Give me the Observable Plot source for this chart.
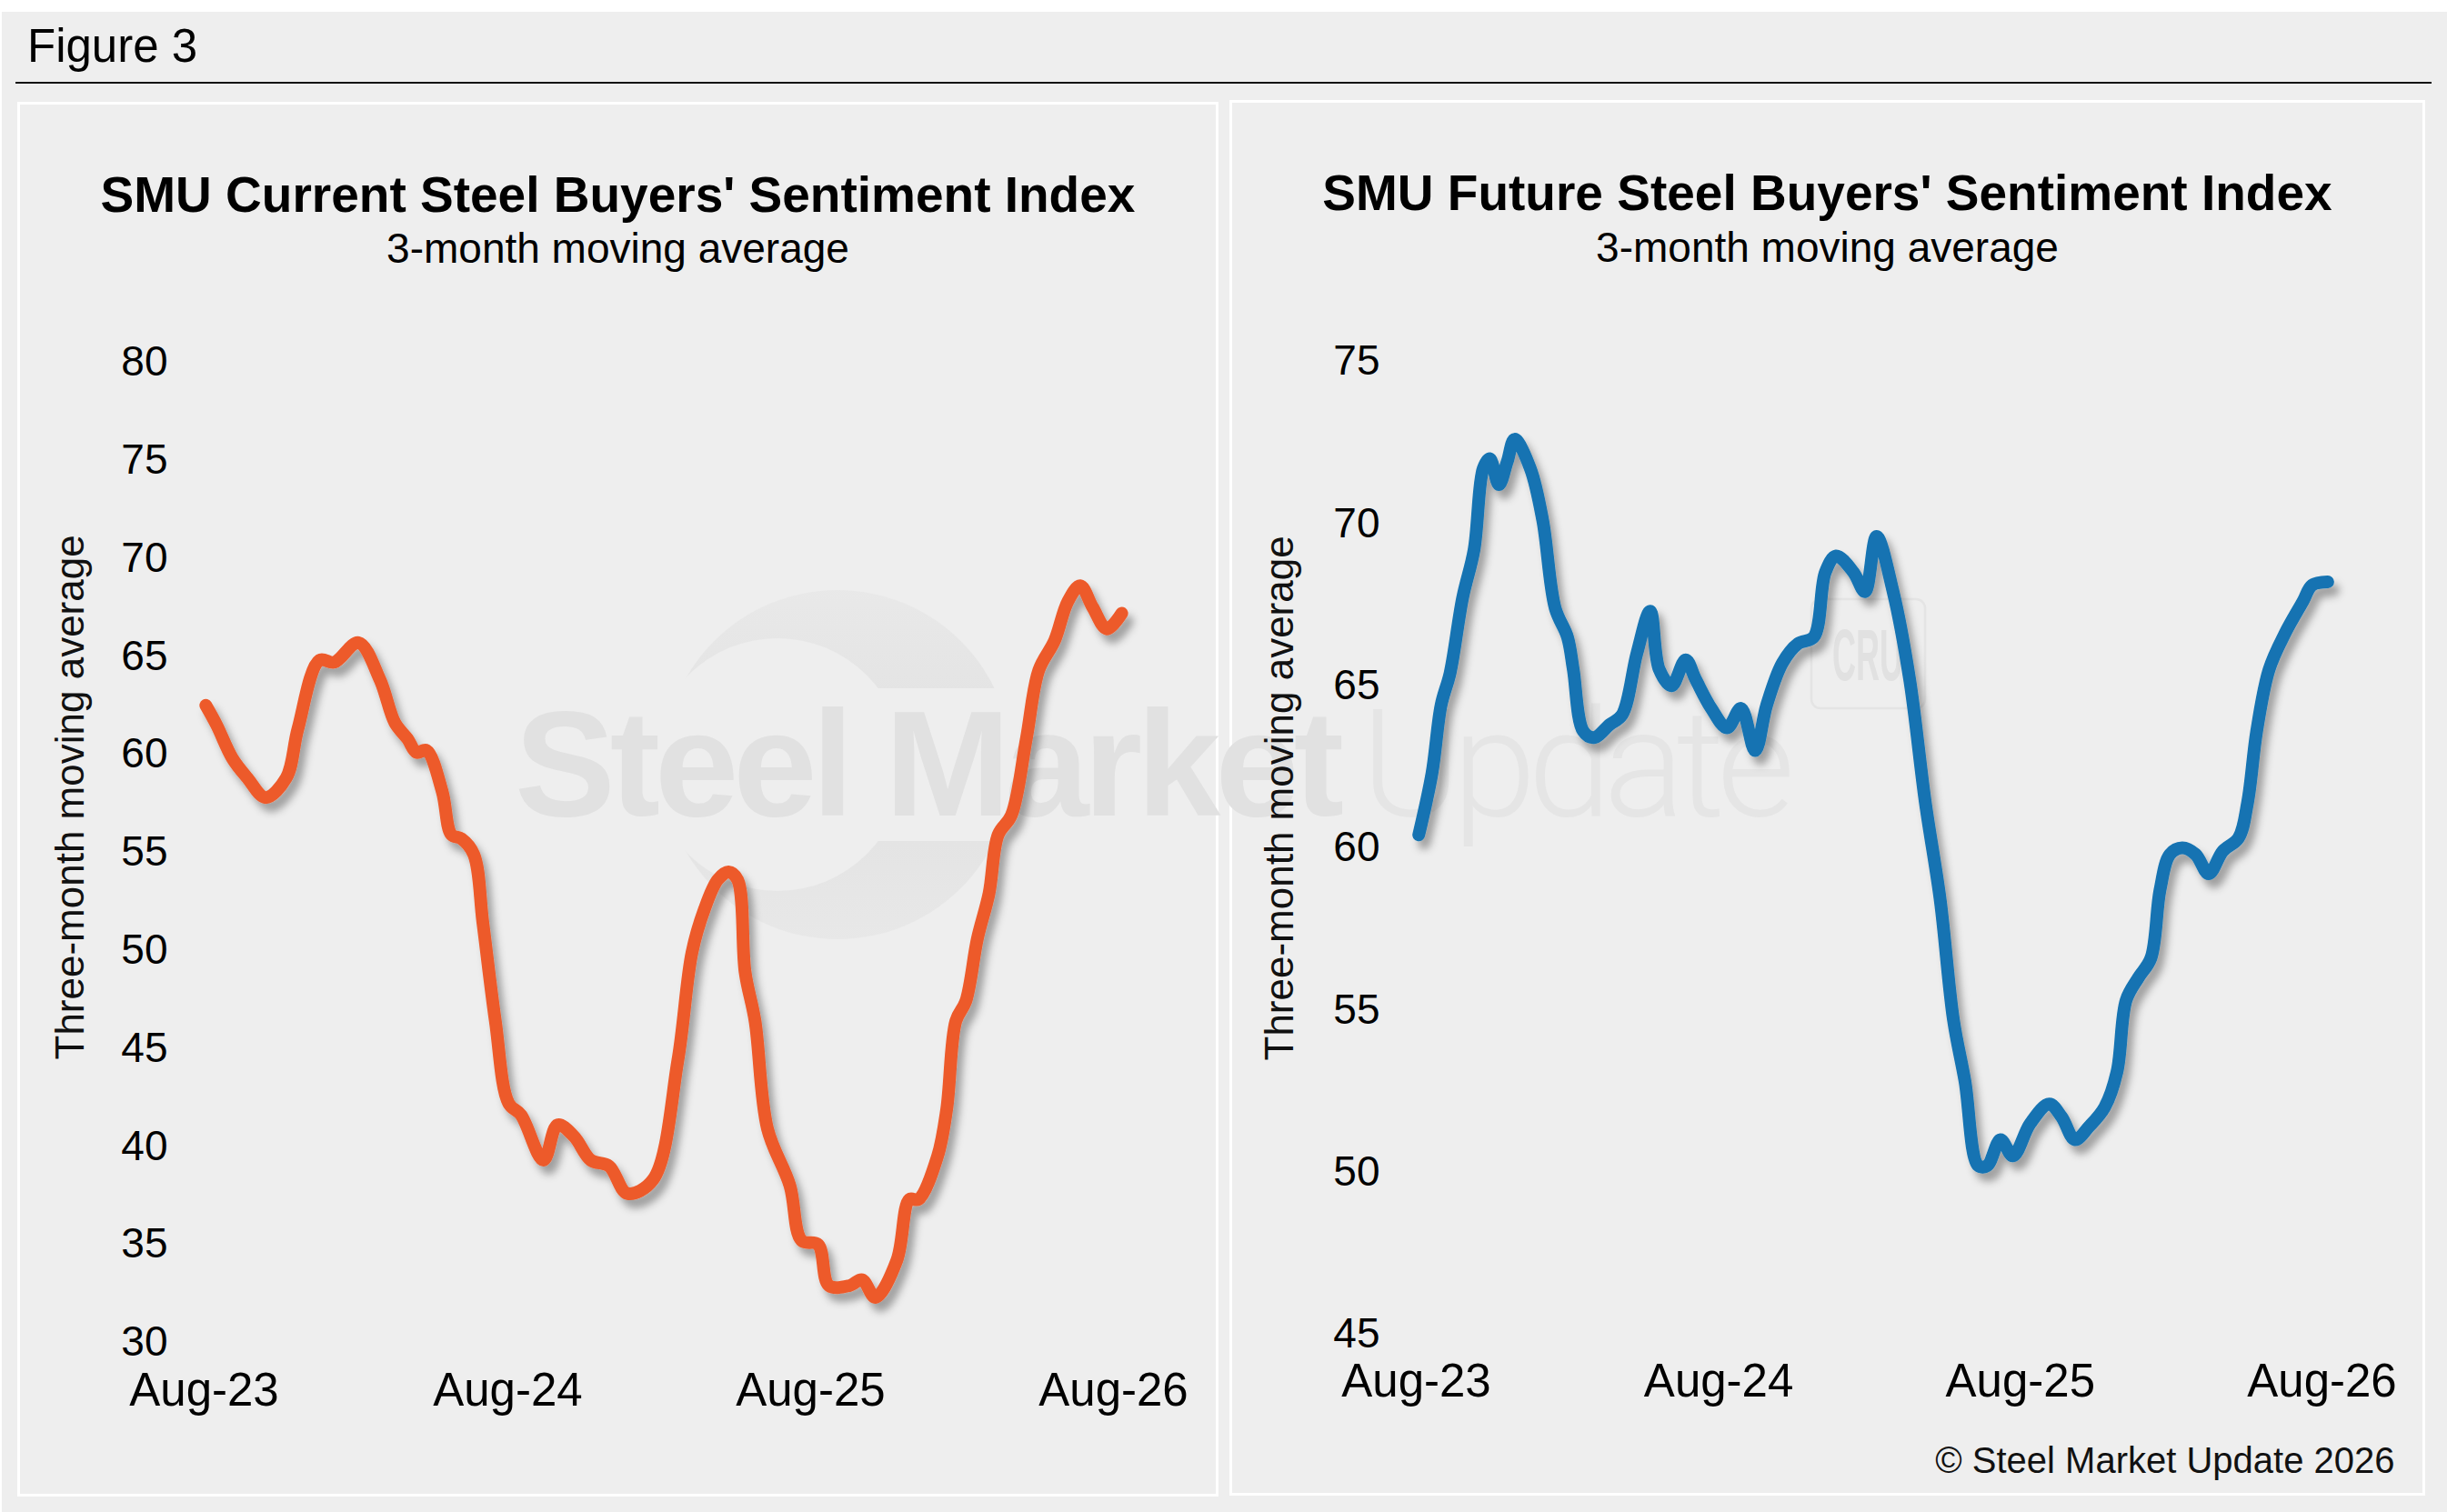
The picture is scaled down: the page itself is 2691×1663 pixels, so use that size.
<!DOCTYPE html>
<html>
<head>
<meta charset="utf-8">
<script src="https://cdn.jsdelivr.net/npm/d3@7"></script>
<script src="https://cdn.jsdelivr.net/npm/@observablehq/plot@0.6"></script>
<style>
  html, body { margin: 0; padding: 0; background: #ffffff; }
  #page { position: relative; width: 2691px; height: 1663px; overflow: hidden;
          font-family: "Liberation Sans", Arial, Helvetica, sans-serif; color: #000; }
  #bg { position: absolute; left: 2px; top: 13px; right: 0; bottom: 0; background: #eeeeee; }
  .abs { position: absolute; }
  .rule { position: absolute; left: 17px; top: 90px; width: 2657px; height: 2px; background: #111; }
  .panel { position: absolute; box-sizing: border-box; border: 3px solid #ffffff; }
  .title { position: absolute; text-align: center; font-weight: bold; font-size: 55px; line-height: 1; white-space: nowrap; }
  .subtitle { position: absolute; text-align: center; font-size: 46px; line-height: 1; white-space: nowrap; }
  #wm { position: absolute; left: 0; top: 0; }
</style>
</head>
<body>
<div id="page">
  <div id="bg"></div>
  <div class="abs" style="left:30px;top:25px;font-size:51px;line-height:1;">Figure 3</div>
  <div class="rule"></div>
  <div class="panel" style="left:19px;top:112px;width:1321px;height:1534px;"></div>
  <div class="panel" style="left:1352px;top:110px;width:1315px;height:1535px;"></div>
  <svg id="wm" width="2691" height="1663" xmlns="http://www.w3.org/2000/svg">
    <defs>
      <mask id="ringMask" maskUnits="userSpaceOnUse" x="0" y="0" width="2691" height="1663">
        <circle cx="921" cy="841" r="192" fill="#fff"></circle>
        <circle cx="855" cy="841" r="139" fill="#000"></circle>
        <rect x="0" y="757" width="2691" height="168" fill="#000"></rect>
      </mask>
      <linearGradient id="ringGrad" x1="0" y1="0" x2="0" y2="1">
        <stop offset="0" stop-color="#e9e9e9"></stop>
        <stop offset="0.5" stop-color="#e1e1e1"></stop>
        <stop offset="1" stop-color="#e8e8e8"></stop>
      </linearGradient>
    </defs>
    <rect x="700" y="640" width="420" height="400" fill="url(#ringGrad)" mask="url(#ringMask)"></rect>
    <text x="566" y="897" font-family="'Liberation Sans', Arial, sans-serif" font-weight="bold" font-size="166" letter-spacing="-6" fill="#e1e1e1">Steel Market</text>
    <text x="1497" y="897" font-family="Roboto, 'Liberation Sans', sans-serif" font-weight="300" font-size="166" letter-spacing="-9" fill="#e5e5e5">Update</text>
    <rect x="1992" y="659" width="125" height="120" rx="10" fill="none" stroke="#e4e4e4" stroke-width="2.5"></rect>
    <text x="2015" y="748" font-family="'Liberation Sans', Arial, sans-serif" font-weight="bold" font-size="80" textLength="78" lengthAdjust="spacingAndGlyphs" fill="#e1e1e1">CRU</text>
  </svg>
  <div class="title" style="left:19px;top:187px;width:1321px;">SMU Current Steel Buyers' Sentiment Index</div>
  <div class="subtitle" style="left:19px;top:250px;width:1321px;">3-month moving average</div>
  <div class="title" style="left:1352px;top:185px;width:1315px;">SMU Future Steel Buyers' Sentiment Index</div>
  <div class="subtitle" style="left:1352px;top:249px;width:1315px;">3-month moving average</div>
  <div id="left" class="abs" style="left:19px;top:112px;"></div>
  <div id="right" class="abs" style="left:1352px;top:110px;"></div>
</div>
<script>
// ---- Data ----
const xTickDates = ["2023-08-01", "2024-08-01", "2025-08-01", "2026-08-01"];
const xTickLabels = ["Aug-23", "Aug-24", "Aug-25", "Aug-26"];
const currentYTicks = [30, 35, 40, 45, 50, 55, 60, 65, 70, 75, 80];
const futureYTicks = [45, 50, 55, 60, 65, 70, 75];
const yAxisLabel = "Three-month moving average";
const copyright = "© Steel Market Update 2026";

const currentDates = ["2023-08-03","2023-08-16","2023-09-04","2023-09-22","2023-10-14","2023-11-08","2023-11-22","2023-12-18",
  "2024-01-05","2024-02-03","2024-02-29","2024-03-18","2024-04-02","2024-04-13","2024-04-25","2024-05-14","2024-05-25",
  "2024-06-06","2024-06-21","2024-07-02","2024-07-17","2024-08-02","2024-08-17","2024-09-13","2024-09-30","2024-10-20",
  "2024-11-09","2024-12-01","2024-12-23","2025-01-23","2025-02-22","2025-03-11","2025-03-26","2025-04-11","2025-04-24",
  "2025-05-05","2025-05-14","2025-05-26","2025-06-10","2025-07-07","2025-07-21","2025-08-10","2025-08-23","2025-09-17",
  "2025-10-02","2025-10-18","2025-11-13","2025-11-28","2025-12-09","2026-01-01","2026-01-12","2026-01-23","2026-02-04",
  "2026-02-18","2026-03-04","2026-03-15","2026-03-31","2026-04-18","2026-05-03","2026-05-22","2026-06-07","2026-06-22",
  "2026-07-07","2026-07-24","2026-08-11"];
const currentValues = [62.5, 61.5, 59.8, 58.8, 57.8, 58.8, 61.3, 64.8,
  64.7, 65.7, 63.8, 61.6, 60.8, 60.1, 60.2, 58.1, 55.9,
  55.7, 54.9, 51.4, 46.4, 42.2, 41.6, 39.3, 41.1, 40.5,
  39.3, 39.0, 37.6, 38.3, 44.4, 49.9, 52.1, 53.6, 54.0,
  53.6, 48.9, 46.4, 40.9, 38.0, 35.2, 35.0, 32.9, 32.9,
  33.2, 32.3, 34.2, 37.3, 37.3, 39.5, 41.9, 46.4, 47.4,
  50.6, 52.9, 55.9, 56.9, 60.8, 64.3, 65.8, 67.8, 68.6,
  67.5, 66.4, 67.2];

const futureDates = ["2023-08-04","2023-08-20","2023-08-31","2023-09-11","2023-09-26","2023-10-10","2023-10-21","2023-10-29",
  "2023-11-09","2023-11-19","2023-11-28","2023-12-17","2024-01-01","2024-01-16","2024-01-31","2024-02-07","2024-02-19",
  "2024-03-03","2024-03-22","2024-04-06","2024-04-24","2024-05-10","2024-05-21","2024-06-05","2024-06-22","2024-07-04",
  "2024-07-23","2024-08-11","2024-08-28","2024-09-14","2024-09-28","2024-10-17","2024-11-05","2024-11-24","2024-12-08",
  "2024-12-21","2025-01-11","2025-01-25","2025-02-08","2025-02-28","2025-03-20","2025-04-08","2025-04-26","2025-05-12",
  "2025-05-26","2025-06-11","2025-06-22","2025-07-08","2025-07-23","2025-08-13","2025-09-05","2025-09-20","2025-10-06",
  "2025-10-23","2025-11-11","2025-11-26","2025-12-07","2025-12-22","2026-01-06","2026-01-17","2026-01-29","2026-02-13",
  "2026-03-01","2026-03-17","2026-04-03","2026-04-22","2026-05-03","2026-05-14","2026-05-29","2026-06-17","2026-07-09",
  "2026-07-20","2026-08-08"];
const futureValues = [60.4, 62.3, 64.4, 65.4, 67.7, 69.2, 71.7, 72.0,
  71.2, 71.9, 72.6, 71.7, 70.1, 67.4, 66.5, 65.5, 63.6,
  63.4, 63.8, 64.1, 66.0, 67.3, 65.5, 65.0, 65.8, 65.2,
  64.3, 63.7, 64.3, 63.0, 64.4, 65.7, 66.3, 66.5, 68.5,
  69.0, 68.5, 67.9, 69.6, 67.9, 65.2, 61.4, 58.4, 54.7,
  52.8, 50.2, 50.2, 51.0, 50.5, 51.5, 52.1, 51.7, 51.0,
  51.4, 52.0, 53.1, 55.3, 56.0, 56.6, 58.7, 59.8, 60.0,
  59.8, 59.2, 59.9, 60.3, 61.4, 63.6, 65.5, 66.6, 67.6,
  68.1, 68.2];

// ---- Build ----
const fontFamily = "'Liberation Sans', Arial, Helvetica, sans-serif";
const tickDates = xTickDates.map(d => new Date(d + "T00:00:00Z"));
const fmtTick = d => { const i = tickDates.findIndex(t => +t === +d); return i >= 0 ? xTickLabels[i] : ""; };

function series(dates, values) {
  return dates.map((d, i) => ({date: new Date(d + "T00:00:00Z"), value: values[i]}));
}

function makeChart(cfg) {
  const data = series(cfg.dates, cfg.values);
  const svg = Plot.plot({
    width: cfg.width, height: cfg.height,
    marginLeft: cfg.ml, marginRight: cfg.mr, marginTop: cfg.mt, marginBottom: cfg.mb,
    style: {background: "transparent", fontFamily, color: "#000", overflow: "visible"},
    x: {type: "utc", domain: [tickDates[0], tickDates[tickDates.length - 1]]},
    y: {domain: cfg.yDomain},
    marks: [
      Plot.axisY({ticks: cfg.yTicks, tickSize: 0, tickPadding: 40, fontSize: 46, label: null, stroke: "none"}),
      Plot.axisX({ticks: tickDates, tickFormat: fmtTick, tickSize: 0, tickPadding: cfg.xPad, fontSize: 51, label: null, stroke: "none"}),
      Plot.text([yAxisLabel], {text: d => d, frameAnchor: "left", rotate: -90, dx: cfg.labDx, dy: cfg.labDy, fontSize: 44, fill: "#111"}),
      ...(cfg.copyright ? [Plot.text([cfg.copyright], {text: d => d, frameAnchor: "bottom-right", textAnchor: "end", lineAnchor: "bottom", dx: cfg.cDx, dy: cfg.cDy, fontSize: 40, fill: "#111"})] : []),
      Plot.line(data, {x: "date", y: "value", stroke: cfg.color, strokeWidth: 14, curve: "catmull-rom", strokeLinejoin: "round", strokeLinecap: "round"})
    ]
  });
  // drop shadow under the line
  const ns = "http://www.w3.org/2000/svg";
  const defs = document.createElementNS(ns, "defs");
  const filter = document.createElementNS(ns, "filter");
  filter.setAttribute("id", cfg.id + "-shadow");
  filter.setAttribute("x", "-10%"); filter.setAttribute("y", "-10%");
  filter.setAttribute("width", "125%"); filter.setAttribute("height", "125%");
  const ds = document.createElementNS(ns, "feDropShadow");
  ds.setAttribute("dx", "6"); ds.setAttribute("dy", "9"); ds.setAttribute("stdDeviation", "4");
  ds.setAttribute("flood-color", "#000"); ds.setAttribute("flood-opacity", "0.33");
  filter.appendChild(ds); defs.appendChild(filter);
  svg.insertBefore(defs, svg.firstChild);
  svg.querySelectorAll('g[aria-label="line"]').forEach(g => g.setAttribute("filter", `url(#${cfg.id}-shadow)`));
  document.getElementById(cfg.id).appendChild(svg);
}

makeChart({id: "left", dates: currentDates, values: currentValues, color: "#ed5a2b",
  width: 1321, height: 1534, ml: 205, mr: 116, mt: 286, mb: 170, xPad: 33,
  yDomain: [30, 80], yTicks: currentYTicks, labDx: -147, labDy: 228});

makeChart({id: "right", dates: futureDates, values: futureValues, color: "#1373b2",
  width: 1315, height: 1535, ml: 205, mr: 114, mt: 287, mb: 178, xPad: 32,
  yDomain: [45, 75], yTicks: futureYTicks, labDx: -150, labDy: 234,
  copyright, cDx: 80, cDy: 152});
</script>
</body>
</html>
